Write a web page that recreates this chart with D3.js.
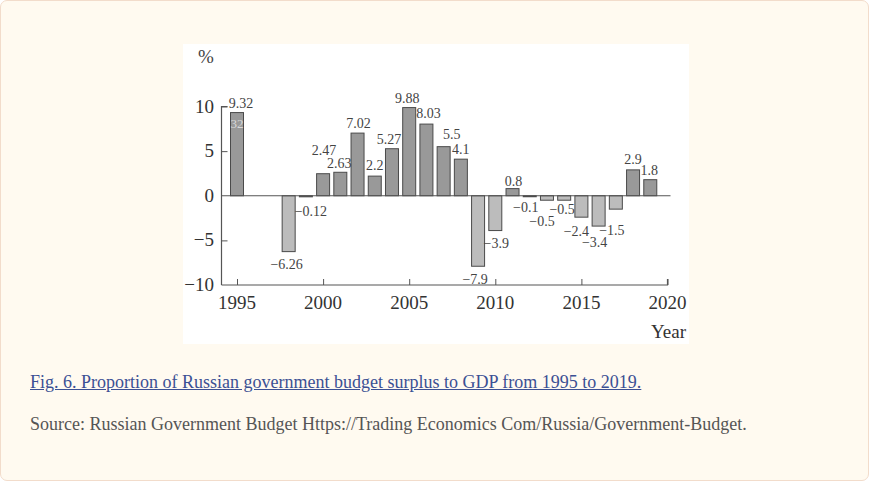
<!DOCTYPE html>
<html>
<head>
<meta charset="utf-8">
<script src="https://cdn.jsdelivr.net/npm/d3@7"></script>
<style>
  html, body { margin: 0; padding: 0; }
  body { width: 869px; height: 481px; background: #fff; overflow: hidden; }
  #page {
    position: absolute; left: 0; top: 0; width: 867px; height: 479px;
    background: #fffaf0; border: 1px solid #f2dccb; border-radius: 7px;
  }
  #chart { position: absolute; left: 0; top: 0; }
  .cap {
    position: absolute; left: 29px; font-family: "Liberation Serif", serif;
    font-size: 18px; white-space: nowrap;
  }
  #title { top: 371px; color: #3b5094; text-decoration: underline; }
  #source { top: 413px; color: #555; }
</style>
</head>
<body>
<div id="page">
  <svg id="chart" width="869" height="481"></svg>
  <div class="cap" id="title">Fig. 6. Proportion of Russian government budget surplus to GDP from 1995 to 2019.</div>
  <div class="cap" id="source">Source: Russian Government Budget Https://Trading Economics Com/Russia/Government-Budget.</div>
</div>
<script>
// values
const years = [1995, 1998, 1999, 2000, 2001, 2002, 2003, 2004, 2005, 2006, 2007, 2008,
               2009, 2010, 2011, 2012, 2013, 2014, 2015, 2016, 2017, 2018, 2019];
const surplus = [9.32, -6.26, -0.12, 2.47, 2.63, 7.02, 2.2, 5.27, 9.88, 8.03, 5.5, 4.1,
                 -7.9, -3.9, 0.8, -0.1, -0.5, -0.5, -2.4, -3.4, -1.5, 2.9, 1.8];
const valueLabels = ["9.32", "\u22126.26", "\u22120.12", "2.47", "2.63", "7.02", "2.2", "5.27",
                     "9.88", "8.03", "5.5", "4.1", "\u22127.9", "\u22123.9", "0.8", "\u22120.1",
                     "\u22120.5", "\u22120.5", "\u22122.4", "\u22123.4", "\u22121.5", "2.9", "1.8"];
const yTicks = [-10, -5, 0, 5, 10];
const xTicks = [1995, 2000, 2005, 2010, 2015, 2020];

// label nudges (px) so labels sit where the original printed them
const labelNudge = [[4, -5], [-2, 17], [5, 19], [1, -19], [-1, -4], [1, -5], [0, -6], [-3, -5],
                    [-2, -5], [2, -6], [8, -8], [0, -5], [-3, 18], [1, 17], [1, -3], [-4, 15],
                    [-5, 26], [-2, 14], [-5, 19], [-4, 21], [-4, 26], [0, -6], [-1, -5]];

const svg = d3.select("#chart");
const serif = "Liberation Serif, serif";

// white panel behind the figure
svg.append("rect")
  .attr("x", 182).attr("y", 43)
  .attr("width", 506).attr("height", 300)
  .attr("fill", "#fff");

const x = d3.scaleLinear().domain([1995, 2020]).range([236, 666.5]);
const y = d3.scaleLinear().domain([-10, 10]).range([284, 105.5]);
const barW = 13;

const g = svg.append("g");

// bars
g.selectAll("rect.bar")
  .data(years.map((yr, i) => ({year: yr, v: surplus[i]})))
  .join("rect")
    .attr("class", "bar")
    .attr("x", d => x(d.year) - barW / 2)
    .attr("width", barW)
    .attr("y", d => y(Math.max(0, d.v)))
    .attr("height", d => Math.max(1, Math.abs(y(d.v) - y(0))))
    .attr("fill", d => d.v >= 0 ? "#999" : "#bcbcbc")
    .attr("stroke", "#4a4a4a")
    .attr("stroke-width", 1);

// zero line across the plot
g.append("line")
  .attr("x1", x.range()[0] - 15.5).attr("x2", x(2020) + 3)
  .attr("y1", y(0)).attr("y2", y(0))
  .attr("stroke", "#555").attr("stroke-width", 1.2);

// y axis (ticks point inward)
const yAxis = g.append("g")
  .attr("transform", "translate(220.5,0)")
  .call(d3.axisRight(y).tickValues(yTicks).tickSize(6).tickFormat(""));
yAxis.select(".domain").attr("stroke", "#555").attr("stroke-width", 1.2).attr("d", `M6,${y(10)}H0V${y(-10)}`);
yAxis.selectAll(".tick line").attr("stroke", "#555");
yAxis.selectAll(".tick").filter(d => d === 0 || d === -10).select("line").remove();

g.selectAll("text.ytick")
  .data(yTicks)
  .join("text")
    .attr("class", "ytick")
    .attr("x", 213)
    .attr("y", d => y(d) + 6)
    .attr("text-anchor", "end")
    .attr("font-family", serif)
    .attr("font-size", 19)
    .attr("fill", "#333")
    .text(d => d < 0 ? "\u2212" + Math.abs(d) : d);

// x axis (ticks point up)
const xAxis = g.append("g")
  .attr("transform", `translate(0,${y(-10)})`)
  .call(d3.axisTop(x).tickValues(xTicks).tickSize(6).tickFormat(""));
xAxis.select(".domain").attr("stroke", "#555").attr("stroke-width", 1.2)
  .attr("d", `M220.5,0H${x(2020)}V-6`);
xAxis.selectAll(".tick line").attr("stroke", "#555");

g.selectAll("text.xtick")
  .data(xTicks)
  .join("text")
    .attr("class", "xtick")
    .attr("x", d => x(d))
    .attr("y", y(-10) + 24)
    .attr("text-anchor", "middle")
    .attr("font-family", serif)
    .attr("font-size", 19)
    .attr("fill", "#333")
    .text(d => d);

// value labels
g.selectAll("text.val")
  .data(years.map((yr, i) => ({year: yr, v: surplus[i], t: valueLabels[i], n: labelNudge[i]})))
  .join("text")
    .attr("class", "val")
    .attr("x", d => x(d.year) + d.n[0])
    .attr("y", d => y(d.v) + d.n[1])
    .attr("text-anchor", "middle")
    .attr("font-family", serif)
    .attr("font-size", 14)
    .attr("fill", "#444")
    .text(d => d.t);

// faint reprint of the first label inside its bar
g.append("text")
  .attr("x", x(1995)).attr("y", y(9.32) + 15)
  .attr("text-anchor", "middle")
  .attr("font-family", serif).attr("font-size", 13)
  .attr("fill", "#d8d8d8")
  .text("32");

// axis titles
g.append("text")
  .attr("x", 205).attr("y", 62)
  .attr("text-anchor", "middle")
  .attr("font-family", serif).attr("font-size", 19).attr("fill", "#444")
  .text("%");

g.append("text")
  .attr("x", 685).attr("y", 337)
  .attr("text-anchor", "end")
  .attr("font-family", serif).attr("font-size", 19).attr("fill", "#333")
  .text("Year");
</script>
</body>
</html>
